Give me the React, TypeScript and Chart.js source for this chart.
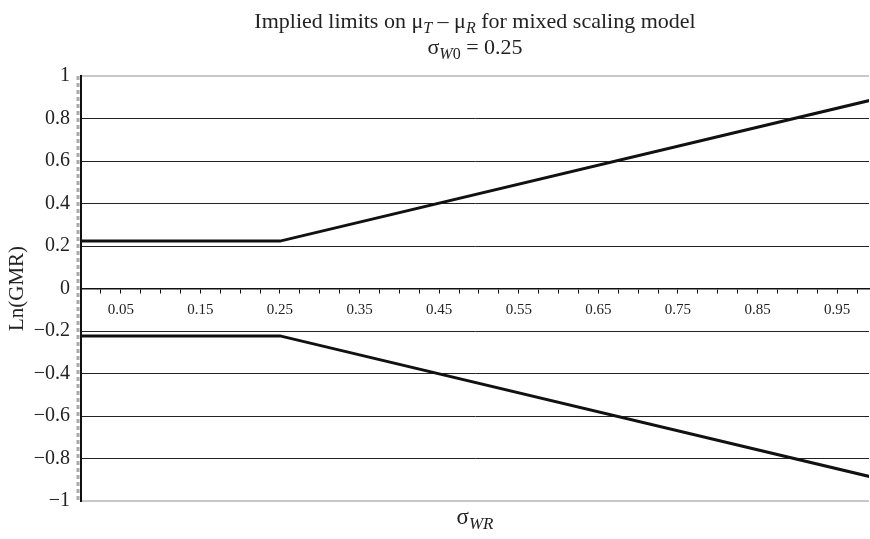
import React, { useEffect, useRef } from 'react';
import { Chart, registerables } from 'chart.js';

Chart.register(...registerables);

// ---- data ----
const sigmaWR = [0, 0.25, 1.0];
const upperLimit = [0.223, 0.223, 0.893];
const lowerLimit = [-0.223, -0.223, -0.893];
const yTickValues = [1, 0.8, 0.6, 0.4, 0.2, 0, -0.2, -0.4, -0.6, -0.8, -1];
const xTickLabels = ['0.05', '0.15', '0.25', '0.35', '0.45', '0.55', '0.65', '0.75', '0.85', '0.95'];
const xMinorStep = 0.025;

const SERIF = '"Liberation Serif", "Times New Roman", serif';

type Seg = { text: string; italic?: boolean; sub?: boolean };

function drawSegments(ctx: CanvasRenderingContext2D, segs: Seg[], cx: number, baseline: number, size: number, subRatio = 0.72) {
  const subSize = Math.round(size * subRatio);
  const fontFor = (s: Seg) => `${s.italic ? 'italic ' : ''}${s.sub ? subSize : size}px ${SERIF}`;
  let total = 0;
  const widths = segs.map((s) => {
    ctx.font = fontFor(s);
    const w = ctx.measureText(s.text).width;
    total += w;
    return w;
  });
  let x = cx - total / 2;
  ctx.textAlign = 'left';
  ctx.textBaseline = 'alphabetic';
  ctx.fillStyle = '#222';
  segs.forEach((s, i) => {
    ctx.font = fontFor(s);
    ctx.fillText(s.text, x, baseline + (s.sub ? size * 0.22 : 0));
    x += widths[i];
  });
}

const decorPlugin = {
  id: 'decor',
  beforeDatasetsDraw(chart: any) {
    const { ctx, chartArea } = chart;
    ctx.save();
    ctx.strokeStyle = '#aaaaaa';
    ctx.lineWidth = 3;
    ctx.setLineDash([4, 3]);
    ctx.beginPath();
    ctx.moveTo(chartArea.left - 3, chartArea.top);
    ctx.lineTo(chartArea.left - 3, chartArea.bottom);
    ctx.stroke();
    ctx.restore();
  },
  afterDraw(chart: any) {
    const { ctx, chartArea } = chart;
    const cx = (chartArea.left + chartArea.right) / 2;
    ctx.save();
    drawSegments(
      ctx,
      [
        { text: 'Implied limits on \u03BC' },
        { text: 'T', italic: true, sub: true },
        { text: ' \u2013 \u03BC' },
        { text: 'R', italic: true, sub: true },
        { text: ' for mixed scaling model' },
      ],
      cx,
      28,
      22
    );
    drawSegments(
      ctx,
      [
        { text: '\u03C3' },
        { text: 'W', italic: true, sub: true },
        { text: '0', sub: true },
        { text: ' = 0.25' },
      ],
      cx,
      54,
      22
    );
    drawSegments(
      ctx,
      [
        { text: '\u03C3' },
        { text: 'WR', italic: true, sub: true },
      ],
      cx,
      524,
      23,
      0.76
    );
    ctx.restore();
  },
};

export default function App() {
  const ref = useRef<HTMLCanvasElement | null>(null);

  useEffect(() => {
    if (!ref.current) return;
    const chart = new Chart(ref.current, {
      type: 'line',
      data: {
        datasets: [
          {
            label: 'Upper',
            data: sigmaWR.map((x, i) => ({ x, y: upperLimit[i] })),
            borderColor: '#111',
            borderWidth: 3,
            pointRadius: 0,
            tension: 0,
          },
          {
            label: 'Lower',
            data: sigmaWR.map((x, i) => ({ x, y: lowerLimit[i] })),
            borderColor: '#111',
            borderWidth: 3,
            pointRadius: 0,
            tension: 0,
          },
        ],
      },
      options: {
        responsive: false,
        animation: false,
        devicePixelRatio: 1,
        layout: { padding: { top: 76, right: 1, bottom: 38, left: 0 } },
        plugins: {
          legend: { display: false },
          tooltip: { enabled: false },
          title: { display: false },
        },
        scales: {
          x: {
            type: 'linear',
            min: 0,
            max: 0.99,
            position: { y: 0 } as any,
            afterBuildTicks: (axis: any) => {
              const ticks = [];
              for (let k = 0; k * xMinorStep <= 0.99 + 1e-9; k++) {
                ticks.push({ value: Math.round(k * xMinorStep * 10000) / 10000 });
              }
              axis.ticks = ticks;
            },
            border: { color: '#111', width: 1.5 },
            grid: { drawOnChartArea: false, drawTicks: true, tickLength: 4, color: '#111', lineWidth: 1 },
            ticks: {
              autoSkip: false,
              maxRotation: 0,
              padding: 9,
              color: '#222',
              font: { family: SERIF, size: 15 },
              callback: (value: any) => {
                const lab = xTickLabels.find((l) => Math.abs(parseFloat(l) - Number(value)) < 1e-6);
                return lab ?? '';
              },
            },
          },
          y: {
            type: 'linear',
            min: -1,
            max: 1,
            afterBuildTicks: (axis: any) => {
              axis.ticks = yTickValues.map((v) => ({ value: v }));
            },
            afterFit: (axis: any) => {
              axis.width = 81;
            },
            border: { color: '#111', width: 2 },
            grid: {
              drawTicks: false,
              color: (c: any) => (Math.abs(Math.abs(c.tick?.value ?? 0) - 1) < 1e-6 ? '#c8c8c8' : '#222'),
              lineWidth: (c: any) => (Math.abs(Math.abs(c.tick?.value ?? 0) - 1) < 1e-6 ? 2 : 1),
            },
            ticks: {
              padding: 11,
              color: '#222',
              font: { family: SERIF, size: 20 },
              callback: (value: any) => {
                const v = Number(value);
                if (Math.abs(v) < 1e-9) return '0';
                const s = String(Math.round(Math.abs(v) * 10) / 10);
                return (v < 0 ? '\u2212' : '') + s;
              },
            },
            title: {
              display: true,
              text: 'Ln(GMR)',
              color: '#222',
              font: { family: SERIF, size: 21 },
              padding: { top: 5, bottom: 0 },
            },
          },
        },
      },
      plugins: [decorPlugin],
    });
    return () => chart.destroy();
  }, []);

  return (
    <div style={{ position: 'absolute', left: 0, top: 0, width: 870, height: 539, background: '#fff' }}>
      <canvas ref={ref} width={870} height={539} />
    </div>
  );
}
